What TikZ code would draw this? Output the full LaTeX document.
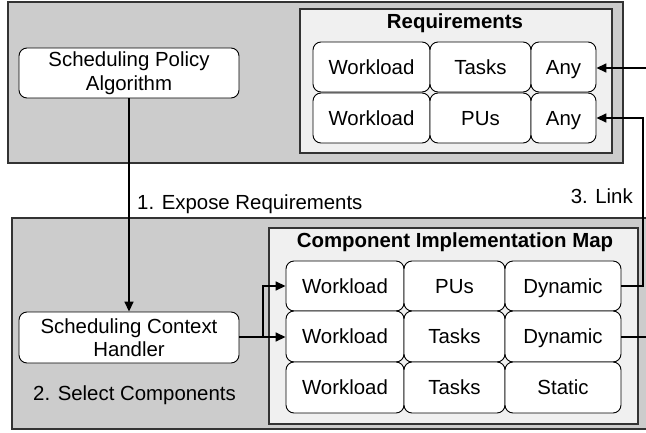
\documentclass[tikz,border=0pt]{standalone}
\usepackage{fontspec}
\setmainfont{Liberation Sans}
\usetikzlibrary{arrows.meta}
\definecolor{outerfill}{HTML}{CCCCCC}
\definecolor{innerfill}{HTML}{F0F0F0}
\definecolor{outerline}{HTML}{333333}
\newcommand{\diagfont}{\fontsize{20.4}{23.5}\selectfont}
\tikzset{
  outerbox/.style={fill=outerfill, draw=outerline, line width=1.3pt},
  innerbox/.style={fill=innerfill, draw=outerline, line width=1.1pt},
  cell/.style={draw=black, fill=white, rounded corners=8pt, line width=0.9pt, inner sep=0pt, minimum height=50pt, text height=14.6pt, text depth=0pt},
  procbox/.style={draw=black, fill=white, rounded corners=8pt, line width=0.9pt, inner sep=0pt, minimum width=220pt, minimum height=50pt, align=center},
  conn/.style={line width=1.6pt, -{Triangle[length=10pt,width=9pt]}},
  plainconn/.style={line width=1.6pt},
  lbl/.style={inner sep=0pt, anchor=base west},
  ttl/.style={inner sep=0pt, font={\diagfont\bfseries}},
}
\begin{document}
\begin{tikzpicture}[x=1pt,y=-1pt, font=\diagfont]
\useasboundingbox (0,0) rectangle (646,432);
\clip (0,0) rectangle (646,432);
\fill[white] (0,0) rectangle (646,432);
% top region
\draw[outerbox] (8,2) rectangle (623,163);
\draw[innerbox] (300,9) rectangle (612,153);
\node[ttl] (reqtitle) at (455,23) {Requirements};
\node[cell, minimum width=117pt] (rw1) at (371.5,67) {Workload};
\node[cell, minimum width=101pt] (rt1) at (480.5,67) {Tasks};
\node[cell, minimum width=65pt] (ra1) at (563.5,67) {Any};
\node[cell, minimum width=117pt] (rw2) at (371.5,118) {Workload};
\node[cell, minimum width=101pt] (rp2) at (480.5,118) {PUs};
\node[cell, minimum width=65pt] (ra2) at (563.5,118) {Any};
\node[procbox] (spa) at (129,73) {Scheduling Policy\\Algorithm};
% bottom region
\draw[outerbox] (12,218) rectangle (700,429);
\draw[innerbox] (269,228) rectangle (638,424);
\node[ttl] (cimtitle) at (455,242) {Component Implementation Map};
\node[cell, minimum width=118pt] (cw1) at (345,286) {Workload};
\node[cell, minimum width=101pt] (cp1) at (454.5,286) {PUs};
\node[cell, minimum width=116pt] (cd1) at (563,286) {Dynamic};
\node[cell, minimum width=118pt, minimum height=51pt] (cw2) at (345,336.5) {Workload};
\node[cell, minimum width=101pt, minimum height=51pt] (ct2) at (454.5,336.5) {Tasks};
\node[cell, minimum width=116pt, minimum height=51pt] (cd2) at (563,336.5) {Dynamic};
\node[cell, minimum width=118pt, minimum height=51pt] (cw3) at (345,387.5) {Workload};
\node[cell, minimum width=101pt, minimum height=51pt] (ct3) at (454.5,387.5) {Tasks};
\node[cell, minimum width=116pt, minimum height=51pt] (cs3) at (563,387.5) {Static};
\node[procbox, minimum height=51pt] (sch) at (129,337.5) {Scheduling Context\\Handler};
\node[lbl] (selectlbl) at (33,400.5) {2. Select Components};
% connectors
\draw[conn] (spa.south) -- (sch.north);
\node[lbl] (exposelbl) at (137,209.5) {1. Expose Requirements};
\node[inner sep=0pt, anchor=base east] (linklbl) at (633,203.5) {3. Link};
\coordinate (branch) at (263,337);
\draw[conn] (sch.east |- branch) -- (cw2.west |- branch);
\draw[conn] (branch) |- (cw1.west);
\coordinate (linkx) at (643,0);
\draw[conn] (cd1.east) -| (linkx |- ra2.east) -- (ra2.east);
\coordinate (rightedge1) at (660,68);
\draw[conn] (rightedge1) -- (ra1.east |- rightedge1);
\coordinate (rightedge2) at (660,337);
\draw[plainconn] (cd2.east |- rightedge2) -- (rightedge2);
\end{tikzpicture}
\end{document}
